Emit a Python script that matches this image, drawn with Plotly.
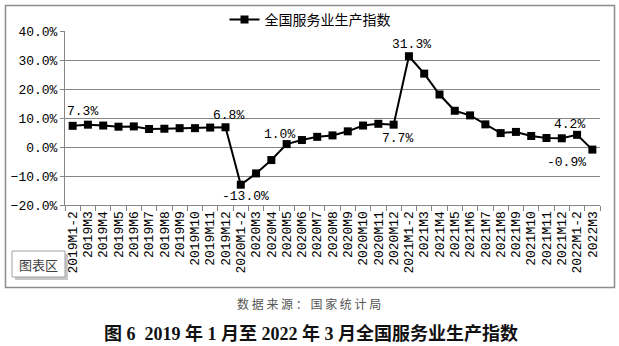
import plotly.graph_objects as go

# National services production index, year-on-year growth (%)
months = [
    "2019M1-2", "2019M3", "2019M4", "2019M5", "2019M6", "2019M7", "2019M8", "2019M9",
    "2019M10", "2019M11", "2019M12",
    "2020M1-2", "2020M3", "2020M4", "2020M5", "2020M6", "2020M7", "2020M8", "2020M9",
    "2020M10", "2020M11", "2020M12",
    "2021M1-2", "2021M3", "2021M4", "2021M5", "2021M6", "2021M7", "2021M8", "2021M9",
    "2021M10", "2021M11", "2021M12",
    "2022M1-2", "2022M3",
]
growth = [
    7.3, 7.7, 7.4, 7.0, 7.1, 6.2, 6.3, 6.5, 6.5, 6.7, 6.8,
    -13.0, -9.1, -4.5, 1.0, 2.4, 3.5, 4.0, 5.4, 7.4, 8.0, 7.7,
    31.3, 25.3, 18.1, 12.5, 10.9, 7.8, 4.8, 5.2, 3.8, 3.1, 3.0,
    4.2, -0.9,
]
series_name = "全国服务业生产指数"

# Points that carry a value label, with label offsets (px)
labelled = {
    "2019M1-2": (10, 14),
    "2019M12": (3, 12),
    "2020M1-2": (5, -12),
    "2020M5": (-7, 10),
    "2020M12": (4, -14),
    "2021M1-2": (3, 12),
    "2022M1-2": (-8, 10),
    "2022M3": (-26, -13),
}

W, H = 619, 346
L, R, T, B = 65, 600, 31, 205  # plot area in pixels
pw, ph = R - L, B - T


def px_x(x):
    return (x - L) / pw


def px_y(y):
    return (B - y) / ph


mono = "Liberation Mono, Noto Sans CJK SC, monospace"
cjk = "Noto Sans CJK SC, sans-serif"
grid = "#868686"

fig = go.Figure()
fig.add_trace(go.Scatter(
    x=months, y=growth, name=series_name, mode="lines+markers",
    line=dict(color="#000000", width=2),
    marker=dict(symbol="square", size=8, color="#000000"),
    cliponaxis=False,
))

annotations = []
for m, (dx, dy) in labelled.items():
    v = growth[months.index(m)]
    annotations.append(dict(
        x=m, y=v, xref="x", yref="y", text=f"{v:.1f}%", showarrow=False,
        xanchor="center", yanchor="middle",
        xshift=dx, yshift=dy, font=dict(family=mono, size=13, color="#000000"),
    ))

annotations += [
    dict(x=px_x(38.5), y=px_y(264), xref="paper", yref="paper", text="图表区",
         xanchor="center", yanchor="middle",
         showarrow=False, font=dict(family=cjk, size=13, color="#404040")),
    dict(x=px_x(309), y=px_y(303), xref="paper", yref="paper",
         text="数 据 来 源 ： 国 家 统 计 局", showarrow=False,
         xanchor="center", yanchor="middle",
         font=dict(family=cjk, size=12, color="#555555")),
    dict(x=px_x(311), y=px_y(333), xref="paper", yref="paper",
         text="<b>图 6  2019 年 1 月至 2022 年 3 月全国服务业生产指数</b>", showarrow=False,
         xanchor="center", yanchor="middle",
         font=dict(family="Liberation Serif, Noto Sans CJK SC, serif", size=18, color="#111111")),
]

shapes = [
    # chart-area frame
    dict(type="rect", xref="paper", yref="paper", x0=px_x(5.5), x1=px_x(614.5),
         y0=px_y(287.5), y1=px_y(5.5), line=dict(color="#8c8c8c", width=1.5),
         fillcolor="rgba(0,0,0,0)", layer="below"),
    # "图表区" tooltip box with shadow
    dict(type="rect", xref="paper", yref="paper", x0=px_x(15), x1=px_x(68),
         y0=px_y(280), y1=px_y(254), line=dict(width=0), fillcolor="#c8c8c8"),
    dict(type="rect", xref="paper", yref="paper", x0=px_x(12), x1=px_x(65),
         y0=px_y(277), y1=px_y(251), line=dict(color="#a0a0a0", width=1),
         fillcolor="#ffffff"),
]

fig.update_layout(
    width=W, height=H,
    margin=dict(l=L, r=W - R, t=T, b=H - B, autoexpand=False),
    paper_bgcolor="#ffffff", plot_bgcolor="#ffffff",
    showlegend=True,
    legend=dict(orientation="h", x=px_x(310), y=px_y(20), xanchor="center", yanchor="middle",
                font=dict(family=cjk, size=14, color="#000000"), bgcolor="rgba(0,0,0,0)",
                itemwidth=30),
    annotations=annotations, shapes=shapes,
)
fig.update_xaxes(
    type="category", range=[-0.5, len(months) - 0.5], tickangle=-90,
    tickmode="array", tickvals=months, ticktext=months, automargin=False,
    showgrid=False, showline=True, linecolor=grid, linewidth=1,
    ticks="outside", tickson="boundaries", ticklen=5, tickcolor=grid,
    tickfont=dict(family=mono, size=13, color="#000000"),
)
fig.update_yaxes(
    range=[-20, 40], dtick=10, tickformat=".1f", ticksuffix="%", automargin=False,
    showgrid=True, gridcolor=grid, gridwidth=1, zeroline=False,
    showline=True, linecolor=grid, linewidth=1,
    ticks="outside", ticklen=4, tickcolor=grid,
    tickfont=dict(family=mono, size=13, color="#000000"),
)

fig.write_html("out.html")
